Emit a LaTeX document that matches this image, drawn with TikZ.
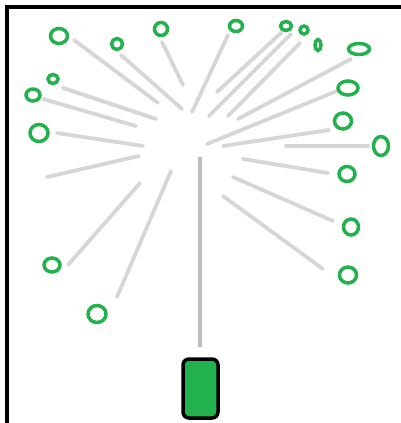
\documentclass[tikz,border=0pt]{standalone}
\usetikzlibrary{shapes.geometric}
\definecolor{pgreen}{RGB}{34,177,76}
\definecolor{spoke}{RGB}{214,214,214}
\definecolor{stemgray}{RGB}{188,188,188}
\begin{document}
\begin{tikzpicture}[x=1pt,y=-1pt,
  bud/.style={draw=pgreen, line width=3.5pt, ellipse, inner sep=0pt},
  ray/.style={draw=spoke, line width=3.8pt, line cap=round},
  pot/.style={draw=black, fill=pgreen, line width=3.5pt, rounded corners=6pt}]
\useasboundingbox (0,0) rectangle (400,423);
\fill[white] (0,0) rectangle (400,423);
\draw[line width=3.5pt] (7,425) -- (7,7) -- (401,7);
% spokes
\draw[ray] (74,40) -- (158,103);
\draw[ray] (121,55) -- (182,109);
\draw[ray] (162,42) -- (183,85);
\draw[ray] (63,88) -- (156,119);
\draw[ray] (43,99) -- (136,126);
\draw[ray] (57,133) -- (143,146);
\draw[ray] (228,35) -- (192,112);
\draw[ray] (282,32) -- (217,92);
\draw[ray] (291,34) -- (209,116);
\draw[ray] (300,43) -- (228,116);
\draw[ray] (351,59) -- (238,119);
\draw[ray] (337,91) -- (207,144);
\draw[ray] (329,130) -- (223,146);
\draw[ray] (286,146) -- (368,146);
\draw[ray] (243,159) -- (328,173);
\draw[ray] (233,177) -- (333,221);
\draw[ray] (223,196) -- (323,269);
\draw[ray] (139,156) -- (47,177);
\draw[ray] (140,183) -- (68,265);
\draw[ray] (171,171) -- (117,297);
% buds
\node[bud, minimum width=17pt, minimum height=15pt] (a) at (59,36) {};
\node[bud, minimum width=11pt, minimum height=11pt] (b) at (117,44) {};
\node[bud, minimum width=13pt, minimum height=13pt] (c) at (161,29) {};
\node[bud, minimum width=10pt, minimum height=9pt] (d) at (53,79) {};
\node[bud, minimum width=14pt, minimum height=12pt] (e) at (33,95) {};
\node[bud, minimum width=18pt, minimum height=17pt] (f) at (39,133) {};
\node[bud, minimum width=13pt, minimum height=11pt] (g) at (236,26) {};
\node[bud, minimum width=11pt, minimum height=9pt] (h) at (286,26) {};
\node[bud, minimum width=8pt, minimum height=8pt] (i) at (304,30) {};
\node[bud, minimum width=6pt, minimum height=11pt] (j) at (318,45) {};
\node[bud, minimum width=21pt, minimum height=11pt] (k) at (359,49) {};
\node[bud, minimum width=20pt, minimum height=14pt] (l) at (348,88) {};
\node[bud, minimum width=17pt, minimum height=16pt] (m) at (343,121) {};
\node[bud, minimum width=15pt, minimum height=19pt] (n) at (381,146) {};
\node[bud, minimum width=16pt, minimum height=15pt] (o) at (347,174) {};
\node[bud, minimum width=15pt, minimum height=16pt] (p) at (351,227) {};
\node[bud, minimum width=17pt, minimum height=16pt] (q) at (348,275) {};
\node[bud, minimum width=16pt, minimum height=14pt] (r) at (52,265) {};
\node[bud, minimum width=18pt, minimum height=17pt] (s) at (97,314) {};
% stem and pot
\node[pot, minimum width=35pt, minimum height=59pt, inner sep=0pt] (box) at (200.5,388.5) {};
\coordinate (top) at (200,157);
\coordinate (stemend) at (200,347);
\draw[draw=stemgray, line width=3.3pt] (top) -- (stemend);
\end{tikzpicture}
\end{document}
